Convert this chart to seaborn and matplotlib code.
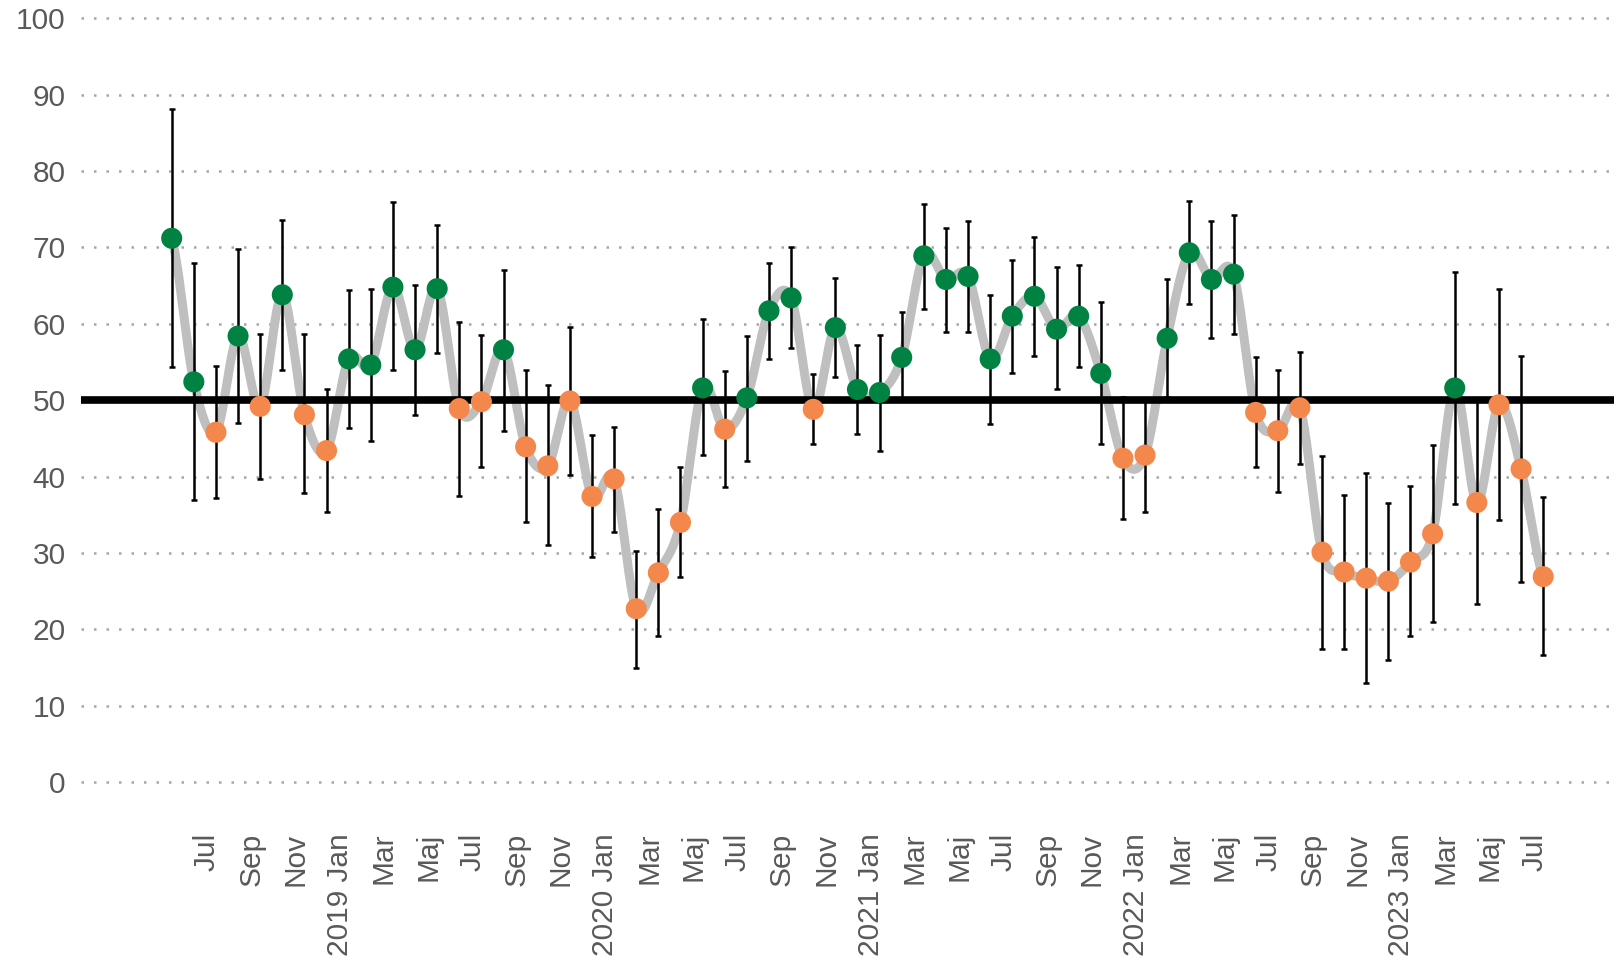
import numpy as np
import pandas as pd
import seaborn as sns
import matplotlib.pyplot as plt
import matplotlib.transforms as mtransforms

# månadsvärden maj 2018 - jul 2023
values = [71.2, 52.4, 45.8, 58.4, 49.2, 63.8, 48.1, 43.4, 55.4, 54.6,
          64.8, 56.6, 64.6, 48.9, 49.8, 56.6, 43.9, 41.4, 49.9, 37.4,
          39.7, 22.7, 27.4, 34.0, 51.6, 46.2, 50.3, 61.7, 63.4, 48.8,
          59.5, 51.4, 51.0, 55.6, 68.9, 65.8, 66.2, 55.4, 61.0, 63.6,
          59.3, 61.0, 53.5, 42.4, 42.8, 58.1, 69.3, 65.8, 66.5, 48.4,
          46.0, 49.0, 30.1, 27.5, 26.7, 26.3, 28.8, 32.5, 51.6, 36.6,
          49.4, 41.0, 26.9]
lower = [54.4, 36.9, 37.2, 47.0, 39.7, 54.0, 37.8, 35.4, 46.4, 44.7,
         53.9, 48.1, 56.2, 37.5, 41.2, 46.0, 34.0, 31.0, 40.2, 29.5,
         32.8, 15.0, 19.1, 26.8, 42.8, 38.6, 42.1, 55.4, 56.8, 44.2,
         53.0, 45.6, 43.4, 50.2, 62.0, 58.9, 58.9, 46.9, 53.5, 55.8,
         51.4, 54.4, 44.2, 34.4, 35.4, 50.4, 62.6, 58.1, 58.6, 41.3,
         38.0, 41.7, 17.4, 17.4, 13.0, 16.0, 19.1, 20.9, 36.4, 23.3,
         34.3, 26.2, 16.7]
upper = [88.1, 67.9, 54.5, 69.8, 58.7, 73.6, 58.7, 51.5, 64.4, 64.5,
         75.9, 65.1, 73.0, 60.3, 58.5, 67.1, 53.9, 52.0, 59.6, 45.4,
         46.5, 30.3, 35.7, 41.2, 60.6, 53.8, 58.4, 68.0, 70.1, 53.4,
         66.0, 57.2, 58.5, 61.5, 75.7, 72.6, 73.4, 63.8, 68.4, 71.4,
         67.4, 67.7, 62.8, 50.4, 50.0, 65.9, 76.1, 73.5, 74.3, 55.6,
         54.0, 56.3, 42.7, 37.6, 40.5, 36.5, 38.7, 44.1, 66.8, 50.0,
         64.5, 55.8, 37.3]
tick_labels = ["Jul", "Sep", "Nov", "2019 Jan", "Mar", "Maj", "Jul", "Sep", "Nov",
               "2020 Jan", "Mar", "Maj", "Jul", "Sep", "Nov",
               "2021 Jan", "Mar", "Maj", "Jul", "Sep", "Nov",
               "2022 Jan", "Mar", "Maj", "Jul", "Sep", "Nov",
               "2023 Jan", "Mar", "Maj", "Jul"]

green = "#008242"
orange = "#F4874B"
grey_txt = "#595959"

df = pd.DataFrame({"x": np.arange(len(values)), "y": values,
                   "lo": lower, "hi": upper})
df["side"] = np.where(df["y"] >= 50, "over", "under")


def smooth(y, steps=24):
    # catmull-rom, ungefär som excels utjämnade linje
    y = np.asarray(y, float)
    n = len(y)
    xs, ys = [], []
    t = np.linspace(0, 1, steps, endpoint=False)
    for i in range(n - 1):
        p0, p1, p2, p3 = y[max(i - 1, 0)], y[i], y[i + 1], y[min(i + 2, n - 1)]
        seg = 0.5 * (2 * p1 + (p2 - p0) * t + (2 * p0 - 5 * p1 + 4 * p2 - p3) * t ** 2
                     + (-p0 + 3 * p1 - 3 * p2 + p3) * t ** 3)
        xs.extend(i + t)
        ys.extend(seg)
    xs.append(n - 1)
    ys.append(y[-1])
    return pd.DataFrame({"x": xs, "y": ys})


sns.set_theme(style="white")
plt.rcParams["font.family"] = ["Liberation Sans", "DejaVu Sans"]

fig = plt.figure(figsize=(16.22, 9.68), dpi=100)
ax = fig.add_axes([81 / 1622, 1 - 805 / 968, (1614 - 81) / 1622, 802 / 968])

for v in range(0, 101, 10):
    ax.axhline(v, color="#A6A6A6", lw=1.8, dashes=(1, 4), zorder=1)

sns.lineplot(data=smooth(values), x="x", y="y", sort=False, color="#BFBFBF",
             lw=6.5, ax=ax, zorder=2)
ax.axhline(50, color="black", lw=5.5, zorder=3)
ax.errorbar(df["x"], df["y"], yerr=[df["y"] - df["lo"], df["hi"] - df["y"]],
            fmt="none", ecolor="black", elinewidth=1.8, capsize=2.5, capthick=1.8,
            zorder=4)
sns.scatterplot(data=df, x="x", y="y", hue="side",
                palette={"over": green, "under": orange}, s=230, linewidth=0,
                legend=False, ax=ax, zorder=5)

ax.set_xlim(-4.1, 65.2)
ax.set_ylim(-3, 102)
ax.set_yticks(range(0, 101, 10))
ax.set_xticks(range(2, len(values), 2))
ax.set_xticklabels(tick_labels, rotation=90, va="top", ha="center")
ax.tick_params(axis="y", length=0, pad=11, labelsize=21.5, labelcolor=grey_txt)
ax.tick_params(axis="x", length=0, pad=20, labelsize=21.5, labelcolor=grey_txt)
shift = mtransforms.ScaledTranslation(-9 / 100, 0, fig.dpi_scale_trans)
for lab in ax.get_xticklabels():
    lab.set_transform(lab.get_transform() + shift)
ax.set_xlabel("")
ax.set_ylabel("")
sns.despine(ax=ax, left=True, bottom=True)

fig.savefig("out.png", dpi=100)
